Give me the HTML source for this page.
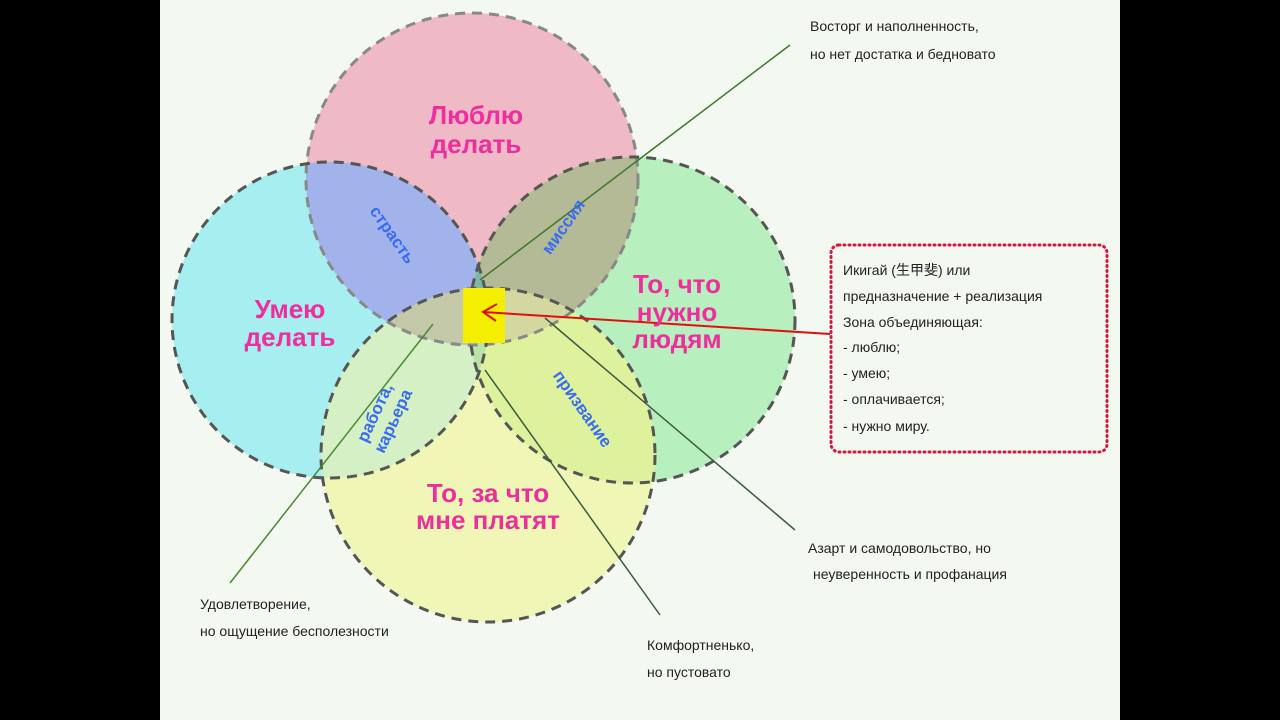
<!DOCTYPE html>
<html><head><meta charset="utf-8"><style>
html,body{margin:0;padding:0;background:#000;width:1280px;height:720px;overflow:hidden}
svg{display:block}
text{font-family:"Liberation Sans","Noto Sans CJK JP",sans-serif}
.big{font-weight:bold;font-size:26px;fill:#ec2f9c}
.mid{font-weight:bold;font-size:17px;fill:#3a6cf0}
.sm{font-size:14px;fill:#222}
</style></head><body>
<svg width="1280" height="720" viewBox="0 0 1280 720">
<defs>
<clipPath id="cP"><circle cx="472" cy="179" r="166"/></clipPath>
<clipPath id="cC"><circle cx="330" cy="320" r="158"/></clipPath>
<clipPath id="cG"><circle cx="632" cy="320" r="163"/></clipPath>
<clipPath id="cY"><circle cx="488" cy="455" r="167"/></clipPath>
</defs>
<rect x="160" y="0" width="960" height="720" fill="#f3f8f1"/>
<circle cx="472" cy="179" r="166" fill="#efb9c6"/>
<circle cx="330" cy="320" r="158" fill="#a6eef0"/>
<circle cx="632" cy="320" r="163" fill="#b8efbe"/>
<circle cx="488" cy="455" r="167" fill="#f0f7b6"/>
<!-- pairs -->
<g clip-path="url(#cP)"><circle cx="330" cy="320" r="158" fill="#a2b2ea"/></g>
<g clip-path="url(#cP)"><circle cx="632" cy="320" r="163" fill="#b4b996"/></g>
<g clip-path="url(#cC)"><circle cx="488" cy="455" r="167" fill="#d4f0c4"/></g>
<g clip-path="url(#cG)"><circle cx="488" cy="455" r="167" fill="#def19c"/></g>
<g clip-path="url(#cP)"><circle cx="488" cy="455" r="167" fill="#cfcca8"/></g>
<!-- triples -->
<g clip-path="url(#cP)"><g clip-path="url(#cC)"><circle cx="632" cy="320" r="163" fill="#7fb8a2"/></g></g>
<g clip-path="url(#cP)"><g clip-path="url(#cC)"><circle cx="488" cy="455" r="167" fill="#c2c8a8"/></g></g>
<g clip-path="url(#cP)"><g clip-path="url(#cG)"><circle cx="488" cy="455" r="167" fill="#d4d8a0"/></g></g>
<g clip-path="url(#cC)"><g clip-path="url(#cG)"><circle cx="488" cy="455" r="167" fill="#b8e4a8"/></g></g>
<g fill="none" stroke="#555" stroke-width="3" stroke-dasharray="10,7">
<circle cx="472" cy="179" r="166" stroke="#888"/>
<circle cx="330" cy="320" r="158"/>
<circle cx="632" cy="320" r="163"/>
<circle cx="488" cy="455" r="167"/>
</g>
<rect x="463" y="288" width="42" height="55" fill="#f4ee00"/>
<g stroke-width="1.5" fill="none">
<line x1="480" y1="280" x2="790" y2="45" stroke="#3c7a2a"/>
<line x1="433" y1="324" x2="230" y2="583" stroke="#4a8a30"/>
<line x1="545" y1="318" x2="795" y2="530" stroke="#3c5a40"/>
<line x1="485" y1="370" x2="660" y2="615" stroke="#3c5a40"/>
<path d="M830,334 L483,312" stroke="#e01010" stroke-width="2"/>
<path d="M497,304 L483,312 L496,321" stroke="#e01010" stroke-width="2"/>
</g>
<rect x="831" y="245" width="276" height="207" rx="8" fill="none" stroke="#d8153a" stroke-width="3" stroke-dasharray="1,4" stroke-linecap="round"/>
<text class="big" text-anchor="middle"><tspan x="476" y="124">Люблю</tspan><tspan x="476" y="153">делать</tspan></text>
<text class="big" text-anchor="middle"><tspan x="290" y="318">Умею</tspan><tspan x="290" y="346">делать</tspan></text>
<text class="big" text-anchor="middle"><tspan x="677" y="293">То, что</tspan><tspan x="677" y="321">нужно</tspan><tspan x="677" y="348">людям</tspan></text>
<text class="big" text-anchor="middle"><tspan x="488" y="502">То, за что</tspan><tspan x="488" y="529">мне платят</tspan></text>
<text class="mid" transform="translate(388,238) rotate(55)" text-anchor="middle">страсть</text>
<text class="mid" transform="translate(568,230) rotate(-55)" text-anchor="middle">миссия</text>
<text class="mid" transform="translate(380,415) rotate(-65)" text-anchor="middle"><tspan x="0" y="0">работа,</tspan><tspan x="0" y="20">карьера</tspan></text>
<text class="mid" transform="translate(578,412) rotate(55)" text-anchor="middle">призвание</text>
<text class="sm"><tspan x="810" y="31">Восторг и наполненность,</tspan><tspan x="810" y="59">но нет достатка и бедновато</tspan></text>
<text class="sm"><tspan x="843" y="275">Икигай (生甲斐) или</tspan><tspan x="843" y="301">предназначение + реализация</tspan><tspan x="843" y="327">Зона объединяющая:</tspan><tspan x="843" y="352">- люблю;</tspan><tspan x="843" y="378">- умею;</tspan><tspan x="843" y="404">- оплачивается;</tspan><tspan x="843" y="431">- нужно миру.</tspan></text>
<text class="sm"><tspan x="808" y="553">Азарт и самодовольство, но</tspan><tspan x="813" y="579">неуверенность и профанация</tspan></text>
<text class="sm"><tspan x="200" y="609">Удовлетворение,</tspan><tspan x="200" y="636">но ощущение бесполезности</tspan></text>
<text class="sm"><tspan x="647" y="650">Комфортненько,</tspan><tspan x="647" y="677">но пустовато</tspan></text>
</svg>
</body></html>
